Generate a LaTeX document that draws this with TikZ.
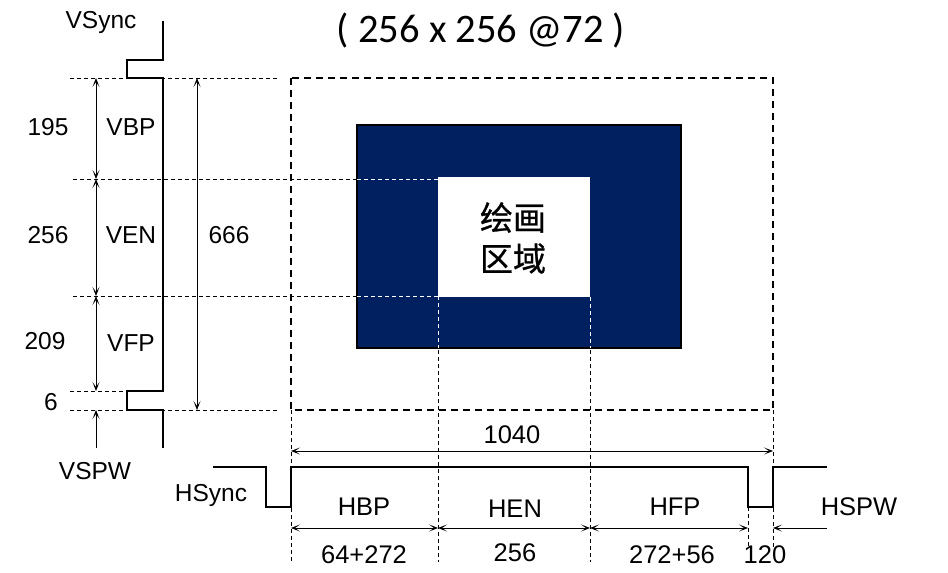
\documentclass[tikz,border=0pt]{standalone}
\usepackage{fontspec}
\setmainfont{Liberation Sans}
\newfontfamily\cjkf[FakeBold=0.8]{Noto Sans CJK SC}
\newfontfamily\titlef{Carlito}
\usetikzlibrary{arrows.meta}
\definecolor{navyfill}{HTML}{002060}
\tikzset{
  wave/.style={line width=2.8pt, line join=miter},
  guide/.style={line width=0.7pt, dash pattern=on 4pt off 3pt},
  guidew/.style={line width=0.7pt, dash pattern=on 4pt off 3pt, white},
  frame/.style={line width=1.6pt, dash pattern=on 7pt off 5pt},
  dim/.style={line width=0.8pt, {Stealth[length=9pt,width=7pt,inset=5pt]}-{Stealth[length=9pt,width=7pt,inset=5pt]}},
  dimone/.style={line width=0.8pt, -{Stealth[length=9pt,width=7pt,inset=5pt]}},
  lbl/.style={font=\fontsize{24.5}{27}\selectfont, inner sep=0pt},
  lblb/.style={font=\fontsize{25.5}{28}\selectfont, inner sep=0pt},
}
\begin{document}
\begin{tikzpicture}[x=1pt,y=-1pt]
\useasboundingbox (0,0) rectangle (948,573);
% key coordinates
\coordinate (fTL) at (291,78);
\coordinate (fBR) at (773,410);
% navy box and white area
\fill[navyfill] (357,125) rectangle (681,348);
\draw[line width=2.8pt] (357,125) rectangle (681,348);
\fill[white] (438,177) rectangle (590,297);
% horizontal guides
\draw[guide] (70,78) -- (278,78);
\draw[guide] (73,179) -- (357,179);
\draw[guidew] (357,179) -- (438,179);
\draw[guide] (73,296) -- (357,296);
\draw[guidew] (357,296) -- (438,296);
\draw[guide] (70,391) -- (127,391);
\draw[guide] (70,410) -- (278,410);
% vertical guides
\draw[guidew] (438,296) -- (438,348);
\draw[guide] (438,350) -- (438,562);
\draw[guidew] (590,297) -- (590,348);
\draw[guide] (590,350) -- (590,562);
\draw[guide] (291,410) -- (291,562);
\draw[guide] (773,410) -- (773,547);
\draw[guide] (748,507) -- (748,547);
% outer frame
\draw[frame] (fTL) rectangle (fBR);
% VSync wave
\draw[wave] (163,21) -- (163,60) -- (127,60) -- (127,78) -- (163,78) -- (163,391)
  -- (127,391) -- (127,410) -- (163,410) -- (163,448);
% HSync wave
\draw[wave] (213,467) -- (266,467) -- (266,507) -- (291,507) -- (291,467) -- (748,467)
  -- (748,507) -- (773,507) -- (773,467) -- (827,467);
% vertical dimension arrows
\coordinate (v0) at (96,78);
\coordinate (v1) at (96,179);
\coordinate (v2) at (96,296);
\coordinate (v3) at (96,391);
\coordinate (v4) at (96,410);
\coordinate (v5) at (96,448);
\draw[dim] (v0) -- (v1);
\draw[dim] (v1) -- (v2);
\draw[dim] (v2) -- (v3);
\draw[dimone] (v5) -- (v4);
\coordinate (t0) at (197,78);
\coordinate (t1) at (197,410);
\draw[dim] (t0) -- (t1);
% horizontal dimension arrows
\coordinate (h0) at (291,451);
\coordinate (h1) at (773,451);
\draw[dim] (h0) -- (h1);
\coordinate (b0) at (291,528);
\coordinate (b1) at (438,528);
\coordinate (b2) at (590,528);
\coordinate (b3) at (748,528);
\coordinate (b4) at (773,528);
\coordinate (b5) at (827,528);
\draw[dim] (b0) -- (b1);
\draw[dim] (b1) -- (b2);
\draw[dim] (b2) -- (b3);
\draw[dimone] (b5) -- (b4);
% labels
\node[lbl] (vsync) at (101,22) {VSync};
\node[lbl] (n195) at (48,127) {195};
\node[lbl] (vbp) at (131,127) {VBP};
\node[lbl] (n256v) at (48,235) {256};
\node[lbl] (ven) at (131,235) {VEN};
\node[lbl] (n666) at (229,235) {666};
\node[lbl] (n209) at (45,341) {209};
\node[lbl] (vfp) at (131,343) {VFP};
\node[lbl] (n6) at (51,402) {6};
\node[lbl] (vspw) at (95,471) {VSPW};
\node[lbl] (hsync) at (211,495) {HSync};
\node[lblb] (n1040) at (512,435) {1040};
\node[lblb] (hbp) at (364,507) {HBP};
\node[lblb] (hen) at (515,509) {HEN};
\node[lblb] (hfp) at (675,507) {HFP};
\node[lblb] (hspw) at (859,507) {HSPW};
\node[lblb] (n64) at (364,555) {64+272};
\node[lblb] (n256h) at (515,553) {256};
\node[lblb] (n272) at (672,555) {272+56};
\node[lblb] (n120) at (765,555) {120};
\node[inner sep=0pt, font=\titlef\fontsize{40.5}{42}\selectfont] (title) at (481,30) {( 256 x 256 @72 )};
\node[inner sep=0pt, align=center, font=\cjkf\fontsize{33}{41}\selectfont] (area) at (513,238) {绘画\\区域};
\end{tikzpicture}
\end{document}
